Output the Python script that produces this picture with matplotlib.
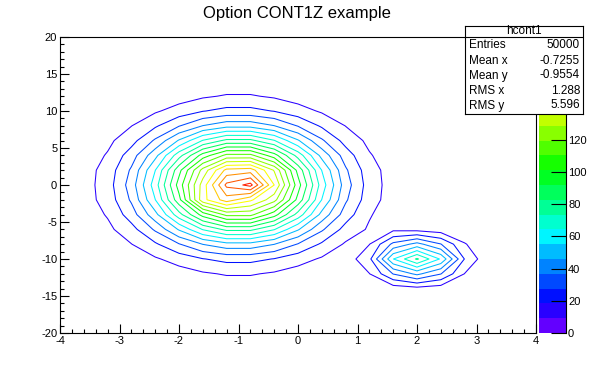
import numpy as np
import matplotlib
matplotlib.use("Agg")
import matplotlib.pyplot as plt
from matplotlib.colors import hsv_to_rgb, ListedColormap, BoundaryNorm
from matplotlib.ticker import MultipleLocator

plt.rcParams['font.family'] = ['Liberation Sans', 'DejaVu Sans']
plt.rcParams['axes.unicode_minus'] = False

# ---------------- data ----------------
x_bins = [-4.0, -3.6, -3.2, -2.8, -2.4, -2.0, -1.6, -1.2, -0.8, -0.4, 0.0,
          0.4, 0.8, 1.2, 1.6, 2.0, 2.4, 2.8, 3.2, 3.6, 4.0]
y_bins = [-20, -18, -16, -14, -12, -10, -8, -6, -4, -2, 0,
          2, 4, 6, 8, 10, 12, 14, 16, 18, 20]
counts = [
    [0, 0, 0, 0, 0, 0, 0, 0, 0, 0, 0, 0, 0, 0, 0, 0, 0, 0, 0, 0, 0],          # y=-20
    [0, 0, 0, 0, 0, 0, 0, 0, 0, 0, 0, 0, 0, 0, 0, 0, 0, 0, 0, 0, 0],          # y=-18
    [0, 0, 0, 0, 0, 1, 1, 1, 1, 1, 1, 0, 0, 0, 0, 0, 0, 0, 0, 0, 0],          # y=-16
    [0, 0, 0, 1, 1, 2, 3, 3, 3, 3, 2, 1, 1, 1, 4, 6, 4, 1, 0, 0, 0],          # y=-14
    [0, 0, 1, 2, 3, 5, 8, 10, 10, 8, 5, 3, 2, 9, 28, 39, 28, 9, 1, 0, 0],     # y=-12
    [0, 1, 2, 4, 8, 13, 18, 21, 21, 18, 13, 8, 4, 16, 55, 75, 54, 18, 2, 0, 0],  # y=-10
    [1, 2, 4, 9, 17, 27, 37, 43, 43, 37, 27, 17, 8, 9, 30, 40, 28, 10, 1, 0, 0],  # y=-8
    [1, 3, 7, 15, 29, 47, 65, 76, 76, 65, 47, 29, 15, 8, 7, 6, 4, 1, 0, 0, 0],    # y=-6
    [1, 4, 10, 23, 43, 70, 96, 113, 113, 96, 70, 43, 23, 10, 4, 1, 0, 0, 0, 0, 0],  # y=-4
    [2, 5, 13, 29, 55, 89, 135, 152, 140, 123, 89, 55, 29, 13, 5, 2, 0, 0, 0, 0, 0],  # y=-2
    [2, 5, 14, 32, 60, 96, 133, 168, 178, 138, 96, 60, 32, 14, 5, 2, 0, 0, 0, 0, 0],  # y=0
    [2, 5, 13, 29, 55, 89, 123, 150, 152, 128, 89, 55, 29, 13, 5, 2, 0, 0, 0, 0, 0],  # y=2
    [1, 4, 10, 23, 43, 70, 96, 113, 113, 96, 70, 43, 23, 10, 4, 1, 0, 0, 0, 0, 0],  # y=4
    [1, 3, 7, 15, 29, 47, 65, 76, 76, 65, 47, 29, 15, 7, 3, 1, 0, 0, 0, 0, 0],      # y=6
    [1, 2, 4, 9, 17, 27, 37, 43, 43, 37, 27, 17, 9, 4, 2, 1, 0, 0, 0, 0, 0],        # y=8
    [0, 1, 2, 4, 8, 13, 18, 21, 21, 18, 13, 8, 4, 2, 1, 0, 0, 0, 0, 0, 0],          # y=10
    [0, 0, 1, 2, 3, 5, 8, 10, 10, 8, 5, 3, 2, 1, 0, 0, 0, 0, 0, 0, 0],             # y=12
    [0, 0, 0, 1, 1, 2, 3, 3, 3, 3, 2, 1, 1, 0, 0, 0, 0, 0, 0, 0, 0],               # y=14
    [0, 0, 0, 0, 0, 1, 1, 1, 1, 1, 1, 0, 0, 0, 0, 0, 0, 0, 0, 0, 0],               # y=16
    [0, 0, 0, 0, 0, 0, 0, 0, 0, 0, 0, 0, 0, 0, 0, 0, 0, 0, 0, 0, 0],               # y=18
    [0, 0, 0, 0, 0, 0, 0, 0, 0, 0, 0, 0, 0, 0, 0, 0, 0, 0, 0, 0, 0],               # y=20
]
z_max = 184.0
n_levels = 20
title = "Option CONT1Z example"
x_ticks = [-4, -3, -2, -1, 0, 1, 2, 3, 4]
y_ticks = [-20, -15, -10, -5, 0, 5, 10, 15, 20]
cbar_ticks = [0, 20, 40, 60, 80, 100, 120, 140, 160, 180]
cbar_labels = ["0", "20", "40", "60", "80", "100", "120", "", "", ""]  # 140-180 hidden by the stats box
stats_name = "hcont1"
stats_labels = ["Entries", "Mean x", "Mean y", "RMS x", "RMS y"]
stats_values = ["50000", "-0.7255", "-0.9554", "1.288", "5.596"]

# ---------------- styling ----------------
W, H = 596, 372
fig = plt.figure(figsize=(W / 100, H / 100), dpi=100)
fig.patch.set_facecolor('white')

def rect(x0, y0, x1, y1):
    return [x0 / W, 1 - y1 / H, (x1 - x0) / W, (y1 - y0) / H]

levels = np.linspace(0, z_max, n_levels + 1)
band_colors = [hsv_to_rgb([0.75 * (1 - (k + 0.5) / n_levels), 1, 1]) for k in range(n_levels)]

ax = fig.add_axes(rect(60, 37, 536, 333))
ax.contour(x_bins, y_bins, np.array(counts, dtype=float), levels=levels[1:-1],
           colors=band_colors[1:], linewidths=0.75)
ax.set_xlim(-4, 4)
ax.set_ylim(-20, 20)
ax.set_xticks(x_ticks)
ax.set_yticks(y_ticks)
ax.xaxis.set_minor_locator(MultipleLocator(0.2))
ax.yaxis.set_minor_locator(MultipleLocator(1))
ax.tick_params(which='both', direction='in', top=False, right=False,
               labelsize=8, width=0.8, colors='black')
ax.tick_params(which='major', length=6.5, pad=2)
ax.tick_params(which='minor', length=3.2)
for s in ax.spines.values():
    s.set_linewidth(0.8)

fig.text(297 / W, 1 - 13.5 / H, title, ha='center', va='center', fontsize=12)

# colour palette
cax = fig.add_axes(rect(539, 37, 566, 333))
cmap = ListedColormap(band_colors)
norm = BoundaryNorm(levels, cmap.N)
cax.pcolormesh([0, 1], levels, np.array(levels[:-1]).reshape(-1, 1), cmap=cmap, norm=norm)
cax.set_xlim(0, 1)
cax.set_ylim(0, z_max)
cax.set_xticks([])
cax.yaxis.tick_right()
cax.set_yticks(cbar_ticks)
cax.set_yticklabels(cbar_labels)
cax.tick_params(axis='y', direction='in', length=10.8, width=0.8, labelsize=8, pad=1.5)
for k in ('left', 'top', 'bottom'):
    cax.spines[k].set_visible(False)
cax.spines['right'].set_linewidth(0.8)

# statistics box
sx0, sy0, sx1, sy1 = 465, 26, 583, 114
sax = fig.add_axes(rect(sx0, sy0, sx1, sy1))
sax.set_facecolor('white')
sax.set_xlim(0, sx1 - sx0)
sax.set_ylim(sy1 - sy0, 0)
sax.set_xticks([])
sax.set_yticks([])
for s in sax.spines.values():
    s.set_linewidth(0.8)
sax.plot([0, sx1 - sx0], [11, 11], color='black', lw=0.8)
sax.text((sx1 - sx0) / 2, 5.5, stats_name, ha='center', va='center', fontsize=8.5)
for i, (lab, val) in enumerate(zip(stats_labels, stats_values)):
    yy = 19.5 + 15 * i
    sax.text(4, yy, lab, ha='left', va='center', fontsize=8.5)
    sax.text(sx1 - sx0 - 3, yy, val, ha='right', va='center', fontsize=8.5)

fig.savefig("out.png", dpi=100)
